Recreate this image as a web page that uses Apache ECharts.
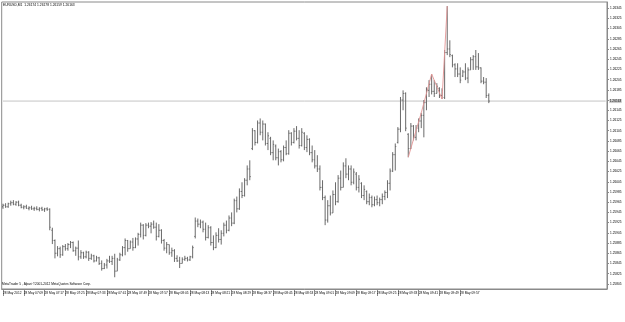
<!DOCTYPE html>
<html><head><meta charset="utf-8">
<script src="https://cdn.jsdelivr.net/npm/echarts@6/dist/echarts.min.js"></script>
<style>html,body{margin:0;padding:0;background:#fff}#c{width:625px;height:322px}</style>
</head><body><div id="c"></div>
<script>
var symbolName = 'EURUSD,M1';
var footerText = 'MetaTrader 5 , Alpari \u00a92001-2012 MetaQuotes Software Corp.';
var xLabels = ['28 May 2012','28 May 07:09','28 May 07:17','28 May 07:25','28 May 07:33','28 May 07:41','28 May 07:49','28 May 07:57','28 May 08:05','28 May 08:13','28 May 08:21','28 May 08:29','28 May 08:37','28 May 08:45','28 May 08:53','28 May 09:01','28 May 09:09','28 May 09:17','28 May 09:25','28 May 09:33','28 May 09:41','28 May 09:49','28 May 09:57'];
var yTicks = [1.25805,1.25825,1.25845,1.25865,1.25885,1.25905,1.25925,1.25945,1.25965,1.25985,1.26005,1.26025,1.26045,1.26065,1.26085,1.26105,1.26125,1.26145,1.26165,1.26185,1.26205,1.26225,1.26245,1.26265,1.26285,1.26305,1.26325,1.26345];
var opens = [1.25956,1.25959,1.25956,1.25962,1.25964,1.25961,1.25965,1.25959,1.25955,1.25956,1.25953,1.25954,1.25952,1.25953,1.25951,1.25953,1.25950,1.25952,1.25951,1.25910,
1.25890,1.25865,1.25874,1.25862,1.25878,1.25874,1.25882,1.25886,1.25870,1.25875,1.25858,1.25866,1.25858,1.25867,1.25855,1.25860,1.25850,1.25856,1.25845,1.25835,
1.25842,1.25850,1.25849,1.25855,1.25830,1.25852,1.25862,1.25876,1.25890,1.25874,1.25887,1.25876,1.25893,1.25902,1.25920,1.25900,1.25920,1.25918,1.25922,1.25916,
1.25898,1.25910,1.25890,1.25875,1.25882,1.25866,1.25870,1.25855,1.25850,1.25845,1.25853,1.25855,1.25852,1.25858,1.25898,1.25928,1.25922,1.25926,1.25912,1.25896,
1.25915,1.25886,1.25876,1.25900,1.25892,1.25904,1.25920,1.25910,1.25934,1.25924,1.25968,1.25952,1.25986,1.25978,1.26008,1.26030,1.26070,1.26105,1.26082,1.26120,
1.26102,1.26118,1.26080,1.26090,1.26062,1.26075,1.26052,1.26064,1.26048,1.26072,1.26060,1.26100,1.26082,1.26104,1.26090,1.26076,1.26100,1.26072,1.26088,1.26062,
1.26048,1.26036,1.26030,1.25994,1.25974,1.25930,1.25958,1.25944,1.25980,1.25966,1.26012,1.25994,1.26036,1.26020,1.26030,1.26004,1.26020,1.25994,1.26002,1.25978,
1.25986,1.25966,1.25974,1.25960,1.25970,1.25964,1.25970,1.25976,1.25984,1.26002,1.26026,1.26058,1.26082,1.26108,1.26165,1.26178,1.26098,1.26070,1.26114,1.26092,
1.26110,1.26124,1.26135,1.26160,1.26184,1.26196,1.26182,1.26178,1.26188,1.26174,1.26170,1.26258,1.26265,1.26252,1.26234,1.26226,1.26216,1.26212,1.26220,1.26208,
1.26224,1.26244,1.26250,1.26230,1.26228,1.26202,1.26200,1.26174];
var highs = [1.25962,1.25963,1.25964,1.25968,1.25969,1.25967,1.25968,1.25962,1.25959,1.25960,1.25957,1.25958,1.25956,1.25957,1.25955,1.25956,1.25954,1.25955,1.25953,1.25915,
1.25892,1.25879,1.25878,1.25881,1.25883,1.25885,1.25889,1.25888,1.25878,1.25890,1.25871,1.25868,1.25870,1.25869,1.25864,1.25862,1.25860,1.25858,1.25851,1.25846,
1.25854,1.25860,1.25860,1.25864,1.25856,1.25866,1.25879,1.25894,1.25891,1.25890,1.25895,1.25896,1.25905,1.25925,1.25922,1.25924,1.25925,1.25926,1.25929,1.25925,
1.25922,1.25912,1.25893,1.25887,1.25882,1.25876,1.25873,1.25861,1.25858,1.25857,1.25860,1.25858,1.25860,1.25880,1.25935,1.25933,1.25931,1.25929,1.25925,1.25920,
1.25918,1.25900,1.25906,1.25914,1.25910,1.25925,1.25929,1.25939,1.25945,1.25972,1.25976,1.25992,1.26004,1.26012,1.26037,1.26047,1.26110,1.26106,1.26125,1.26129,
1.26125,1.26119,1.26102,1.26093,1.26086,1.26078,1.26070,1.26067,1.26076,1.26086,1.26106,1.26102,1.26110,1.26114,1.26106,1.26110,1.26102,1.26096,1.26090,1.26076,
1.26067,1.26057,1.26037,1.26008,1.25978,1.25969,1.25978,1.25988,1.26004,1.26018,1.26027,1.26043,1.26051,1.26037,1.26037,1.26031,1.26024,1.26018,1.26004,1.25998,
1.25988,1.25982,1.25978,1.25976,1.25978,1.25974,1.25982,1.25988,1.26008,1.26031,1.26063,1.26080,1.26112,1.26171,1.26184,1.26180,1.26100,1.26120,1.26116,1.26116,
1.26129,1.26140,1.26165,1.26190,1.26204,1.26216,1.26204,1.26198,1.26190,1.26188,1.26263,1.26349,1.26282,1.26254,1.26237,1.26237,1.26229,1.26224,1.26237,1.26229,
1.26249,1.26253,1.26263,1.26257,1.26229,1.26210,1.26208,1.26178];
var lows = [1.25952,1.25954,1.25954,1.25958,1.25959,1.25958,1.25957,1.25953,1.25951,1.25952,1.25949,1.25950,1.25948,1.25949,1.25947,1.25948,1.25946,1.25948,1.25910,1.25883,
1.25855,1.25859,1.25856,1.25860,1.25870,1.25870,1.25875,1.25868,1.25860,1.25851,1.25854,1.25854,1.25855,1.25850,1.25852,1.25847,1.25849,1.25842,1.25831,1.25834,
1.25835,1.25846,1.25842,1.25818,1.25830,1.25850,1.25859,1.25861,1.25868,1.25874,1.25870,1.25875,1.25880,1.25896,1.25892,1.25898,1.25914,1.25904,1.25913,1.25890,
1.25896,1.25884,1.25870,1.25865,1.25862,1.25858,1.25848,1.25848,1.25836,1.25845,1.25850,1.25849,1.25850,1.25855,1.25894,1.25916,1.25914,1.25906,1.25890,1.25894,
1.25880,1.25871,1.25875,1.25886,1.25882,1.25898,1.25904,1.25908,1.25918,1.25922,1.25945,1.25950,1.25973,1.25976,1.25998,1.26008,1.26067,1.26076,1.26080,1.26096,
1.26086,1.26076,1.26067,1.26057,1.26047,1.26047,1.26037,1.26043,1.26045,1.26057,1.26058,1.26076,1.26080,1.26086,1.26070,1.26074,1.26067,1.26063,1.26057,1.26043,
1.26031,1.26024,1.25988,1.25969,1.25920,1.25925,1.25939,1.25944,1.25959,1.25964,1.25988,1.25994,1.26012,1.26008,1.25998,1.26000,1.25988,1.25984,1.25973,1.25969,
1.25961,1.25959,1.25955,1.25957,1.25959,1.25957,1.25961,1.25969,1.25973,1.25988,1.26024,1.26027,1.26080,1.26102,1.26145,1.26104,1.26053,1.26069,1.26086,1.26086,
1.26102,1.26110,1.26092,1.26145,1.26171,1.26176,1.26171,1.26178,1.26169,1.26167,1.26167,1.26253,1.26249,1.26229,1.26210,1.26210,1.26198,1.26210,1.26204,1.26198,
1.26224,1.26224,1.26224,1.26224,1.26198,1.26196,1.26169,1.26159];
var closes = [1.25959,1.25956,1.25962,1.25964,1.25961,1.25965,1.25959,1.25955,1.25956,1.25953,1.25954,1.25952,1.25953,1.25951,1.25953,1.25950,1.25952,1.25951,1.25916,1.25890,
1.25865,1.25874,1.25862,1.25878,1.25874,1.25882,1.25886,1.25870,1.25875,1.25858,1.25866,1.25858,1.25867,1.25855,1.25860,1.25850,1.25856,1.25845,1.25835,1.25842,
1.25850,1.25849,1.25855,1.25830,1.25852,1.25862,1.25876,1.25890,1.25874,1.25887,1.25876,1.25893,1.25902,1.25920,1.25900,1.25920,1.25918,1.25922,1.25916,1.25898,
1.25910,1.25890,1.25875,1.25882,1.25866,1.25870,1.25855,1.25850,1.25845,1.25853,1.25855,1.25852,1.25858,1.25876,1.25928,1.25922,1.25926,1.25912,1.25896,1.25915,
1.25886,1.25876,1.25900,1.25892,1.25904,1.25920,1.25910,1.25934,1.25924,1.25968,1.25952,1.25986,1.25978,1.26008,1.26030,1.26015,1.26105,1.26082,1.26120,1.26102,
1.26118,1.26080,1.26095,1.26062,1.26078,1.26052,1.26064,1.26048,1.26072,1.26060,1.26100,1.26082,1.26104,1.26090,1.26076,1.26102,1.26072,1.26088,1.26062,1.26048,
1.26036,1.26030,1.25994,1.25974,1.25930,1.25958,1.25944,1.25980,1.25966,1.26012,1.25994,1.26036,1.26020,1.26030,1.26004,1.26024,1.25994,1.26010,1.25978,1.25990,
1.25966,1.25974,1.25960,1.25970,1.25964,1.25970,1.25976,1.25984,1.26002,1.26026,1.26058,1.26074,1.26108,1.26165,1.26178,1.26110,1.26070,1.26114,1.26092,1.26110,
1.26124,1.26135,1.26160,1.26184,1.26196,1.26182,1.26178,1.26192,1.26174,1.26184,1.26258,1.26265,1.26254,1.26234,1.26226,1.26216,1.26204,1.26220,1.26208,1.26224,
1.26244,1.26250,1.26230,1.26228,1.26202,1.26200,1.26174,1.26163];
var zigzagBars = [156, 161, 165, 169, 170, 171];
var zigzagPrices = [1.26053, 1.26140, 1.26216, 1.26167, 1.26258, 1.26349];
var slotCount = 233;

var cats = [];
for (var i = 0; i < slotCount; i++) cats.push(String(i));
var ohlc = opens.map(function (o, i) { return [i, o, highs[i], lows[i], closes[i]]; });
var zig = zigzagBars.map(function (b, k) { return [b, zigzagPrices[k]]; });
var n = closes.length - 1;
var bid = closes[n];
var titleText = symbolName + '  ' + opens[n].toFixed(5) + ' ' + highs[n].toFixed(5) + ' ' + lows[n].toFixed(5) + ' ' + closes[n].toFixed(5);
var shownTicks = yTicks.filter(function (t) { return Math.abs(t - bid) > 0.00008; });
var FF = 'Liberation Sans, DejaVu Sans, sans-serif';
var xLabelOn = function (idx) { return idx % 8 === 0 && idx / 8 < xLabels.length; };

var chart = echarts.init(document.getElementById('c'), null, {renderer: 'canvas'});
chart.setOption({
  animation: false,
  backgroundColor: '#ffffff',
  title: [
    {text: titleText, left: 3, top: 3.5, padding: 0, textStyle: {fontSize: 3.3, fontWeight: 'normal', color: '#000', fontFamily: FF}},
    {text: footerText, left: 2, top: 283, padding: 0, textStyle: {fontSize: 3.2, fontWeight: 'normal', color: '#000', fontFamily: FF}}
  ],
  grid: {left: 1, right: 18, top: 2, bottom: 33, show: true, borderColor: '#8a8a8a', borderWidth: 1, containLabel: false},
  xAxis: {
    type: 'category', data: cats, boundaryGap: true,
    axisLine: {show: true, lineStyle: {color: '#8a8a8a', width: 1}},
    axisTick: {show: true, length: 7, lineStyle: {color: '#8a8a8a'}, alignWithLabel: true, interval: xLabelOn},
    axisLabel: {show: true, fontSize: 3.2, color: '#000', fontFamily: FF, align: 'left', margin: 2.5, interval: xLabelOn,
      formatter: function (v, idx) { return xLabels[idx / 8] || ''; }},
    splitLine: {show: false}
  },
  yAxis: {
    type: 'value', position: 'right', min: 1.25795, max: 1.26357, scale: true,
    axisLine: {show: true, lineStyle: {color: '#8a8a8a', width: 1}},
    axisTick: {show: true, length: 2, customValues: yTicks, lineStyle: {color: '#8a8a8a'}},
    axisLabel: {show: true, customValues: shownTicks, fontSize: 3.2, color: '#000', fontFamily: FF, margin: 3,
      formatter: function (v) { return v.toFixed(5); }},
    splitLine: {show: false}
  },
  series: [
    {
      type: 'line', name: 'bid', data: [[0, bid], [slotCount - 1, bid]], silent: true,
      symbol: 'none', lineStyle: {color: '#c4c4c4', width: 1}, z: 1,
      endLabel: {show: true, distance: 3.5, fontSize: 3.2, fontFamily: FF, color: '#000',
        backgroundColor: '#cccccc', padding: [0.5, 0.5],
        formatter: function () { return bid.toFixed(5); }}
    },
    {
      type: 'custom', name: 'bars', data: ohlc, encode: {x: 0, y: [1, 2, 3, 4]}, silent: true, z: 2,
      renderItem: function (params, api) {
        var x = api.value(0);
        var o = api.coord([x, api.value(1)]);
        var h = api.coord([x, api.value(2)]);
        var l = api.coord([x, api.value(3)]);
        var c = api.coord([x, api.value(4)]);
        var w = api.size([1, 0])[0] * 0.38;
        var st = {stroke: '#6a6a6a', lineWidth: 1};
        return {type: 'group', children: [
          {type: 'line', shape: {x1: h[0], y1: h[1], x2: l[0], y2: l[1]}, style: st},
          {type: 'line', shape: {x1: o[0] - w, y1: o[1], x2: o[0], y2: o[1]}, style: st},
          {type: 'line', shape: {x1: c[0], y1: c[1], x2: c[0] + w, y2: c[1]}, style: st}
        ]};
      }
    },
    {
      type: 'line', name: 'zigzag', data: zig, silent: true, z: 3,
      lineStyle: {color: '#e39494', width: 0.9},
      symbol: 'circle', symbolSize: 2.3, showSymbol: true,
      itemStyle: {color: '#7a1010', borderWidth: 0}
    }
  ]
});
</script>
</body></html>
